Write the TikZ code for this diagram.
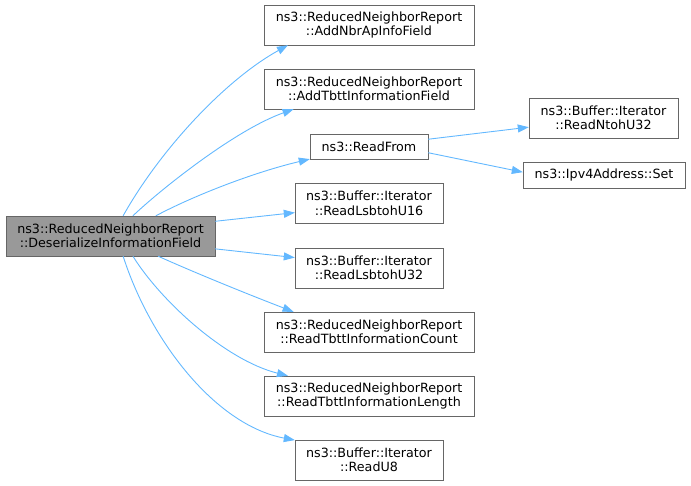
\documentclass[tikz,border=0pt]{standalone}
\usepackage{fontspec}
\setmainfont{DejaVu Sans}
\usepackage{xcolor}
\usepackage{tikz}
\usetikzlibrary{arrows.meta}
\definecolor{edgeblue}{HTML}{63B8FF}
\definecolor{boxline}{HTML}{666666}
\definecolor{srcfill}{HTML}{999999}
\tikzstyle{func} = [rectangle, draw=boxline, fill=white, align=center, inner sep=0pt, minimum height=40pt, font=\fontsize{12.7}{14.5}\selectfont]
\tikzstyle{wide} = [func, minimum width=210pt]
\tikzstyle{mid} = [func, minimum width=148pt]
\tikzstyle{single} = [func, minimum height=25pt]
\tikzstyle{current} = [func, fill=srcfill, minimum width=209pt]
\tikzstyle{arrow} = [edgeblue, line width=0.9pt, -{Triangle[length=11pt,width=8pt]}]

\begin{document}
\begin{tikzpicture}[x=1pt, y=-1pt]
    \useasboundingbox (0,0) rectangle (691,485);
    \node (src) [current] at (110.5,236) {ns3::ReducedNeighborReport\\::DeserializeInformationField};
    \node (nbr) [wide] at (369,25) {ns3::ReducedNeighborReport\\::AddNbrApInfoField};
    \node (tbtt) [wide] at (369,89) {ns3::ReducedNeighborReport\\::AddTbttInformationField};
    \node (rdfrom) [single, minimum width=118pt] at (369,146.5) {ns3::ReadFrom};
    \node (lsb16) [mid] at (369,203.5) {ns3::Buffer::Iterator\\::ReadLsbtohU16};
    \node (lsb32) [mid] at (369,268) {ns3::Buffer::Iterator\\::ReadLsbtohU32};
    \node (cnt) [wide] at (369,332) {ns3::ReducedNeighborReport\\::ReadTbttInformationCount};
    \node (len) [wide] at (369,396) {ns3::ReducedNeighborReport\\::ReadTbttInformationLength};
    \node (u8) [mid] at (369,460) {ns3::Buffer::Iterator\\::ReadU8};
    \node (ntoh) [func, minimum width=149pt] at (603.5,118) {ns3::Buffer::Iterator\\::ReadNtohU32};
    \node (ipv4) [single, minimum width=162pt, minimum height=26pt] at (604,175) {ns3::Ipv4Address::Set};

    \draw [arrow] (src.58) .. controls (160,150) and (225,80) .. (nbr.194);
    \draw [arrow] (src.42) .. controls (160,190) and (235,130) .. (tbtt.195);
    \draw [arrow] (src.24) .. controls (195,195) and (255,172) .. (rdfrom.192);
    \draw [arrow] (src.8) -- (lsb16.187);
    \draw [arrow] (src.353) -- (lsb32.172);
    \draw [arrow] (src.337) .. controls (200,275) and (255,297) .. (cnt.165);
    \draw [arrow] (src.318) .. controls (160,300) and (225,360) .. (len.166);
    \draw [arrow] (src.302) .. controls (150,340) and (215,425) .. (u8.165);
    \draw [arrow] (rdfrom.7) -- (ntoh.187);
    \draw [arrow] (rdfrom.354) -- (ipv4.178);
\end{tikzpicture}
\end{document}
